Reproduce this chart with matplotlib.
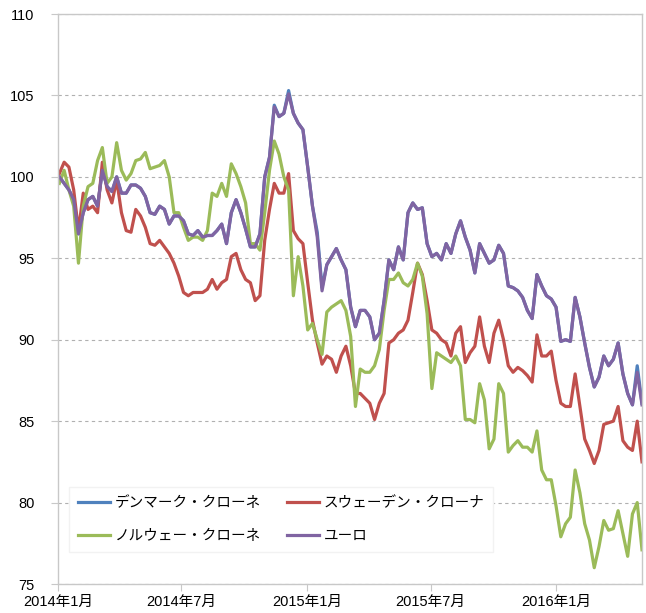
import matplotlib
matplotlib.use('Agg')
import matplotlib.pyplot as plt
import matplotlib.dates as mdates
import pandas as pd

plt.rcParams['font.family'] = ['Liberation Sans', 'Noto Sans CJK JP', 'DejaVu Sans']

# 週次データ (2014/1/3 ～ 2016/5/6)
dates = pd.date_range('2014-01-03', periods=123, freq='7D')

euro = [100.0, 99.6, 99.2, 98.6, 96.5, 97.8, 98.6, 98.8, 98.2, 100.4,
        99.4, 99.1, 100.0, 99.0, 99.0, 99.5, 99.5, 99.3, 98.8, 97.8,
        97.7, 98.2, 98.0, 97.1, 97.6, 97.6, 97.3, 96.5, 96.4, 96.7,
        96.3, 96.4, 96.4, 96.7, 97.1, 95.9, 97.8, 98.6, 97.8, 96.8,
        95.7, 95.7, 96.5, 100.0, 101.2, 104.3, 103.7, 103.9, 105.1, 103.9,
        103.3, 102.9, 100.6, 98.2, 96.3, 93.0, 94.6, 95.1, 95.6, 94.9,
        94.3, 92.0, 90.8, 91.8, 91.8, 91.4, 90.0, 90.4, 92.4, 94.9,
        94.3, 95.7, 94.9, 97.8, 98.4, 98.0, 98.1, 95.9, 95.1, 95.3,
        94.9, 95.9, 95.3, 96.5, 97.3, 96.3, 95.5, 94.1, 95.9, 95.3,
        94.7, 94.9, 95.8, 95.3, 93.3, 93.2, 93.0, 92.6, 91.8, 91.3,
        94.0, 93.3, 92.7, 92.5, 92.0, 89.9, 90.0, 89.9, 92.6, 91.4,
        89.8, 88.3, 87.1, 87.7, 89.0, 88.4, 88.8, 89.8, 87.9, 86.7,
        86.0, 88.0, 86.0]

dkk = [100.0, 99.6, 99.2, 98.6, 96.5, 97.8, 98.6, 98.8, 98.2, 100.4,
       99.4, 99.1, 100.0, 99.0, 99.0, 99.5, 99.5, 99.3, 98.8, 97.8,
       97.7, 98.2, 98.0, 97.1, 97.6, 97.6, 97.3, 96.5, 96.4, 96.7,
       96.3, 96.4, 96.4, 96.7, 97.1, 95.9, 97.8, 98.6, 97.8, 96.8,
       95.7, 95.7, 96.5, 100.0, 101.2, 104.4, 103.7, 103.9, 105.3, 103.9,
       103.3, 102.9, 100.6, 98.2, 96.6, 93.2, 94.6, 95.1, 95.6, 94.9,
       94.3, 92.0, 90.8, 91.8, 91.8, 91.4, 90.0, 90.4, 92.4, 94.9,
       94.3, 95.7, 94.9, 97.8, 98.4, 98.0, 98.1, 95.9, 95.1, 95.3,
       94.9, 95.9, 95.3, 96.5, 97.3, 96.3, 95.5, 94.1, 95.9, 95.3,
       94.7, 94.9, 95.8, 95.3, 93.3, 93.2, 93.0, 92.6, 91.8, 91.3,
       94.0, 93.3, 92.7, 92.5, 92.0, 89.9, 90.0, 89.9, 92.6, 91.4,
       89.8, 88.3, 87.1, 87.7, 89.0, 88.4, 88.8, 89.8, 87.9, 86.7,
       86.0, 88.4, 86.1]

sek = [100.2, 100.9, 100.6, 99.2, 96.7, 99.0, 98.0, 98.2, 97.8, 100.9,
       99.2, 98.4, 99.8, 97.8, 96.7, 96.6, 98.0, 97.6, 96.9, 95.9,
       95.8, 96.1, 95.7, 95.3, 94.7, 93.9, 92.9, 92.7, 92.9, 92.9,
       92.9, 93.1, 93.7, 93.1, 93.5, 93.7, 95.1, 95.3, 94.3, 93.7,
       93.5, 92.4, 92.7, 96.1, 98.0, 99.6, 99.0, 99.0, 100.2, 96.7,
       96.2, 95.9, 93.5, 91.2, 89.8, 88.5, 89.0, 88.8, 88.0, 89.0,
       89.6, 88.4, 86.7, 86.7, 86.4, 86.1, 85.1, 86.1, 86.7, 89.8,
       90.0, 90.4, 90.6, 91.2, 92.9, 94.7, 94.0, 92.4, 90.6, 90.4,
       90.0, 89.8, 89.0, 90.4, 90.8, 88.6, 89.2, 89.6, 91.4, 89.6,
       88.6, 90.4, 91.2, 90.0, 88.4, 88.0, 88.3, 88.1, 87.8, 87.4,
       90.3, 89.0, 89.0, 89.3, 87.5, 86.1, 85.9, 85.9, 87.9, 85.9,
       83.9, 83.2, 82.4, 83.2, 84.8, 84.9, 85.0, 85.9, 83.8, 83.4,
       83.2, 85.0, 82.5]

nok = [99.6, 100.4, 99.2, 98.2, 94.7, 98.2, 99.4, 99.6, 101.0, 101.8,
       99.6, 100.0, 102.1, 100.4, 99.8, 100.2, 101.0, 101.1, 101.5, 100.5,
       100.6, 100.7, 101.0, 100.0, 97.8, 97.8, 96.9, 96.1, 96.3, 96.3,
       96.1, 96.7, 99.0, 98.8, 99.6, 98.8, 100.8, 100.2, 99.4, 98.4,
       95.9, 95.9, 95.5, 97.8, 100.4, 102.2, 101.4, 100.0, 99.2, 92.7,
       95.1, 93.3, 90.6, 91.0, 90.0, 89.1, 91.7, 92.0, 92.2, 92.4,
       91.8, 90.2, 85.9, 88.2, 88.0, 88.0, 88.4, 89.4, 91.8, 93.7,
       93.7, 94.1, 93.5, 93.3, 93.7, 94.7, 93.9, 91.6, 87.0, 89.2,
       89.0, 88.8, 88.6, 89.0, 88.4, 85.1, 85.1, 84.9, 87.3, 86.3,
       83.3, 83.9, 87.3, 86.7, 83.1, 83.5, 83.8, 83.4, 83.4, 83.1,
       84.4, 82.0, 81.4, 81.4, 79.8, 77.9, 78.7, 79.1, 82.0, 80.6,
       78.7, 77.7, 76.0, 77.3, 78.9, 78.3, 78.4, 79.5, 78.1, 76.7,
       79.3, 80.0, 77.1]

fig = plt.figure(figsize=(6.46, 6.13), dpi=100)
ax = fig.add_axes([58 / 646, 1 - 584 / 613, (642 - 58) / 646, (584 - 14) / 613])

lw = 2.3
l_dkk, = ax.plot(dates, dkk, color='#4f81bd', lw=lw, label='デンマーク・クローネ')
l_sek, = ax.plot(dates, sek, color='#c0504d', lw=lw, label='スウェーデン・クローナ')
l_nok, = ax.plot(dates, nok, color='#9bbb59', lw=lw, label='ノルウェー・クローネ')
l_eur, = ax.plot(dates, euro, color='#8064a2', lw=lw, label='ユーロ')

ax.set_ylim(75, 110)
ax.set_yticks(range(75, 111, 5))
ax.set_xlim(pd.Timestamp('2014-01-01'), dates[-1])
ax.xaxis.set_major_locator(mdates.MonthLocator(bymonth=[1, 7]))
ax.xaxis.set_major_formatter(mdates.DateFormatter('%Y年%-m月'))

ax.grid(axis='y', color='#b0b0b0', linestyle=(0, (3, 3)), lw=0.8)
ax.set_axisbelow(True)
for s in ax.spines.values():
    s.set_color('#c8c8c8')
    s.set_linewidth(1.0)

ax.tick_params(axis='both', direction='out', length=5, color='#c8c8c8',
               labelsize=10.5, labelcolor='black')
ax.tick_params(axis='y', pad=12)
ax.tick_params(axis='x', pad=3)

leg = ax.legend(handles=[l_dkk, l_nok, l_sek, l_eur], ncol=2,
                loc='upper left', bbox_to_anchor=(62 / 646, 1 - 480 / 613),
                bbox_transform=fig.transFigure, fontsize=10.5,
                handlelength=2.2, handletextpad=0.3, columnspacing=1.8,
                labelspacing=1.3, frameon=True, fancybox=False,
                borderpad=0.6)
leg.get_frame().set_facecolor('white')
leg.get_frame().set_edgecolor('#f2f2f2')
leg.get_frame().set_alpha(1)
for t in leg.get_texts():
    t.set_family(['Noto Sans CJK JP', 'DejaVu Sans'])

fig.savefig('out.png', dpi=100)
